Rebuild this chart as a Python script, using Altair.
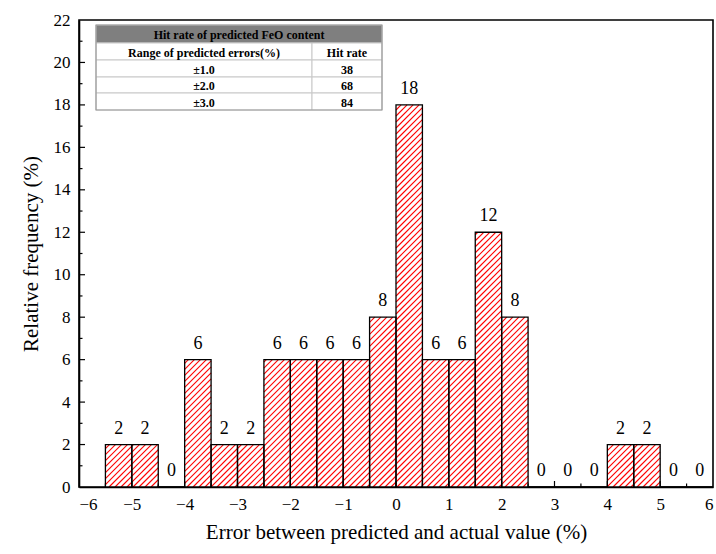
import altair as alt
import pandas as pd
import numpy as np

# ---------------- data ----------------
bin_starts = [-5.5, -5.0, -4.5, -4.0, -3.5, -3.0, -2.5, -2.0, -1.5, -1.0, -0.5,
              0.0, 0.5, 1.0, 1.5, 2.0, 2.5, 3.0, 3.5, 4.0, 4.5, 5.0, 5.5]
freq = [2, 2, 0, 6, 2, 2, 6, 6, 6, 6, 8, 18, 6, 6, 12, 8, 0, 0, 0, 2, 2, 0, 0]
bin_width = 0.5

x_ticks = [-6, -5, -4, -3, -2, -1, 0, 1, 2, 3, 4, 5, 6]
y_ticks = [0, 2, 4, 6, 8, 10, 12, 14, 16, 18, 20, 22]

table_title = "Hit rate of predicted FeO content"
table_headers = ["Range of predicted errors(%)", "Hit rate"]
table_ranges = ["±1.0", "±2.0", "±3.0"]
table_rates = ["38", "68", "84"]

# ---------------- layout ----------------
W, H = 634, 467
PAD_L, PAD_T = 79, 20
XMIN, XMAX, YMIN, YMAX = -6, 6, 0, 22
sx = W / (XMAX - XMIN)
sy = H / (YMAX - YMIN)
FONT = "Liberation Serif"

def px_to_x(px):
    return (px - PAD_L) / sx + XMIN

def py_to_y(py):
    return (PAD_T + H - py) / sy

bars = pd.DataFrame({
    "x0": bin_starts,
    "x1": [b + bin_width for b in bin_starts],
    "xc": [b + bin_width / 2 for b in bin_starts],
    "y0": [0] * len(freq),
    "freq": freq,
})

# hatch lines "/" (45 deg in pixel space) clipped to each bar
d = 6.0
segs = []
for b, f in zip(bin_starts, freq):
    X0 = (b - XMIN) * sx
    X1 = (b + bin_width - XMIN) * sx
    Hb = f * sy
    if Hb <= 0:
        continue
    k0 = int(np.floor((X0 - Hb) / d))
    k1 = int(np.ceil(X1 / d))
    for k in range(k0, k1 + 1):
        c = k * d
        ylo = max(0.0, X0 - c)
        yhi = min(Hb, X1 - c)
        if yhi - ylo > 0.3:
            segs.append({"hx": (c + ylo) / sx + XMIN, "hy": ylo / sy,
                         "hx2": (c + yhi) / sx + XMIN, "hy2": yhi / sy})
hatch = pd.DataFrame(segs)

xscale = alt.Scale(domain=[XMIN, XMAX], nice=False, zero=False)
yscale = alt.Scale(domain=[YMIN, YMAX], nice=False)

x_axis = alt.Axis(values=x_ticks, ticks=False, labelPadding=9, labelFontSize=17,
                  labelFont=FONT, labelColor="black", title="Error between predicted and actual value (%)",
                  titleFont=FONT, titleFontSize=21, titleFontWeight="normal", titleColor="black",
                  titlePadding=9, grid=False, domainColor="black", domainWidth=1.6, format="d")
y_axis = alt.Axis(values=y_ticks, ticks=False, labelPadding=9, labelFontSize=17,
                  labelFont=FONT, labelColor="black", title="Relative frequency (%)",
                  titleFont=FONT, titleFontSize=21, titleFontWeight="normal", titleColor="black",
                  titlePadding=12, grid=False, domainColor="black", domainWidth=1.6, format="d")

base_rect = alt.Chart(bars).mark_rect(fill="white", stroke=None).encode(
    x=alt.X("x0:Q", scale=xscale, axis=x_axis),
    x2="x1:Q",
    y=alt.Y("y0:Q", scale=yscale, axis=y_axis),
    y2="freq:Q",
)

hatch_layer = alt.Chart(hatch).mark_rule(color="#ff0000", strokeWidth=1.1).encode(
    x="hx:Q", x2="hx2:Q", y="hy:Q", y2="hy2:Q"
)

outline = alt.Chart(bars).mark_rect(fillOpacity=0, stroke="black", strokeWidth=1.3).encode(
    x="x0:Q", x2="x1:Q", y="y0:Q", y2="freq:Q"
)

labels = alt.Chart(bars).mark_text(font=FONT, fontSize=18, baseline="bottom", dy=-7,
                                   color="black").encode(
    x="xc:Q", y="freq:Q", text="freq:Q"
)

# inward ticks
maj_len, min_len = 6.0, 3.5
xt = [{"tx": v, "ty": 0.0, "ty2": maj_len / sy} for v in x_ticks[1:-1]]
xt += [{"tx": v + 0.5, "ty": 0.0, "ty2": min_len / sy} for v in x_ticks[:-1]]
x_tick_layer = alt.Chart(pd.DataFrame(xt)).mark_rule(color="black", strokeWidth=1.2).encode(
    x="tx:Q", y="ty:Q", y2="ty2:Q"
)
yt = [{"ux": XMIN, "ux2": XMIN + maj_len / sx, "uy": v} for v in y_ticks[1:-1]]
yt += [{"ux": XMIN, "ux2": XMIN + min_len / sx, "uy": v + 1} for v in y_ticks[:-1]]
y_tick_layer = alt.Chart(pd.DataFrame(yt)).mark_rule(color="black", strokeWidth=1.2).encode(
    x="ux:Q", x2="ux2:Q", y="uy:Q"
)

# ---------------- inset table ----------------
tl, tm, tr = 96, 312, 382
row_edges = [25, 43, 60, 77, 93, 110]
cells = []
texts = []
# title row
cells.append({"cx": px_to_x(tl), "cx2": px_to_x(tr), "cy": py_to_y(row_edges[0]),
              "cy2": py_to_y(row_edges[1]), "fill": "#7f7f7f"})
texts.append({"tx": px_to_x((tl + tr) / 2), "ty": py_to_y((row_edges[0] + row_edges[1]) / 2 + 1),
              "txt": table_title})
rows = [table_headers] + [[a, b] for a, b in zip(table_ranges, table_rates)]
for i, (a, b) in enumerate(rows):
    top, bot = row_edges[i + 1], row_edges[i + 2]
    cells.append({"cx": px_to_x(tl), "cx2": px_to_x(tm), "cy": py_to_y(top), "cy2": py_to_y(bot), "fill": "white"})
    cells.append({"cx": px_to_x(tm), "cx2": px_to_x(tr), "cy": py_to_y(top), "cy2": py_to_y(bot), "fill": "white"})
    texts.append({"tx": px_to_x((tl + tm) / 2), "ty": py_to_y((top + bot) / 2 + 1), "txt": a})
    texts.append({"tx": px_to_x((tm + tr) / 2), "ty": py_to_y((top + bot) / 2 + 1), "txt": b})

table_cells = alt.Chart(pd.DataFrame(cells)).mark_rect(stroke="#c8c8c8", strokeWidth=1).encode(
    x="cx:Q", x2="cx2:Q", y="cy:Q", y2="cy2:Q",
    fill=alt.Fill("fill:N", scale=None),
)
table_border = alt.Chart(pd.DataFrame([{
    "bx": px_to_x(tl), "bx2": px_to_x(tr), "by": py_to_y(row_edges[0]), "by2": py_to_y(row_edges[-1])
}])).mark_rect(fillOpacity=0, stroke="#9a9a9a", strokeWidth=1.2).encode(
    x="bx:Q", x2="bx2:Q", y="by:Q", y2="by2:Q"
)
table_text = alt.Chart(pd.DataFrame(texts)).mark_text(
    font=FONT, fontSize=12, fontWeight="bold", color="black", baseline="middle"
).encode(x="tx:Q", y="ty:Q", text="txt:N")

chart = alt.layer(
    base_rect, hatch_layer, outline, labels, x_tick_layer, y_tick_layer,
    table_cells, table_border, table_text
).properties(
    width=W, height=H,
    autosize=alt.AutoSizeParams(type="none"),
    padding={"left": PAD_L, "top": PAD_T, "right": 716 - PAD_L - W, "bottom": 554 - PAD_T - H},
    background="white",
).configure_view(
    stroke="black", strokeWidth=1.6
)

chart.save("out.html", embed_options={"renderer": "svg", "actions": False})
